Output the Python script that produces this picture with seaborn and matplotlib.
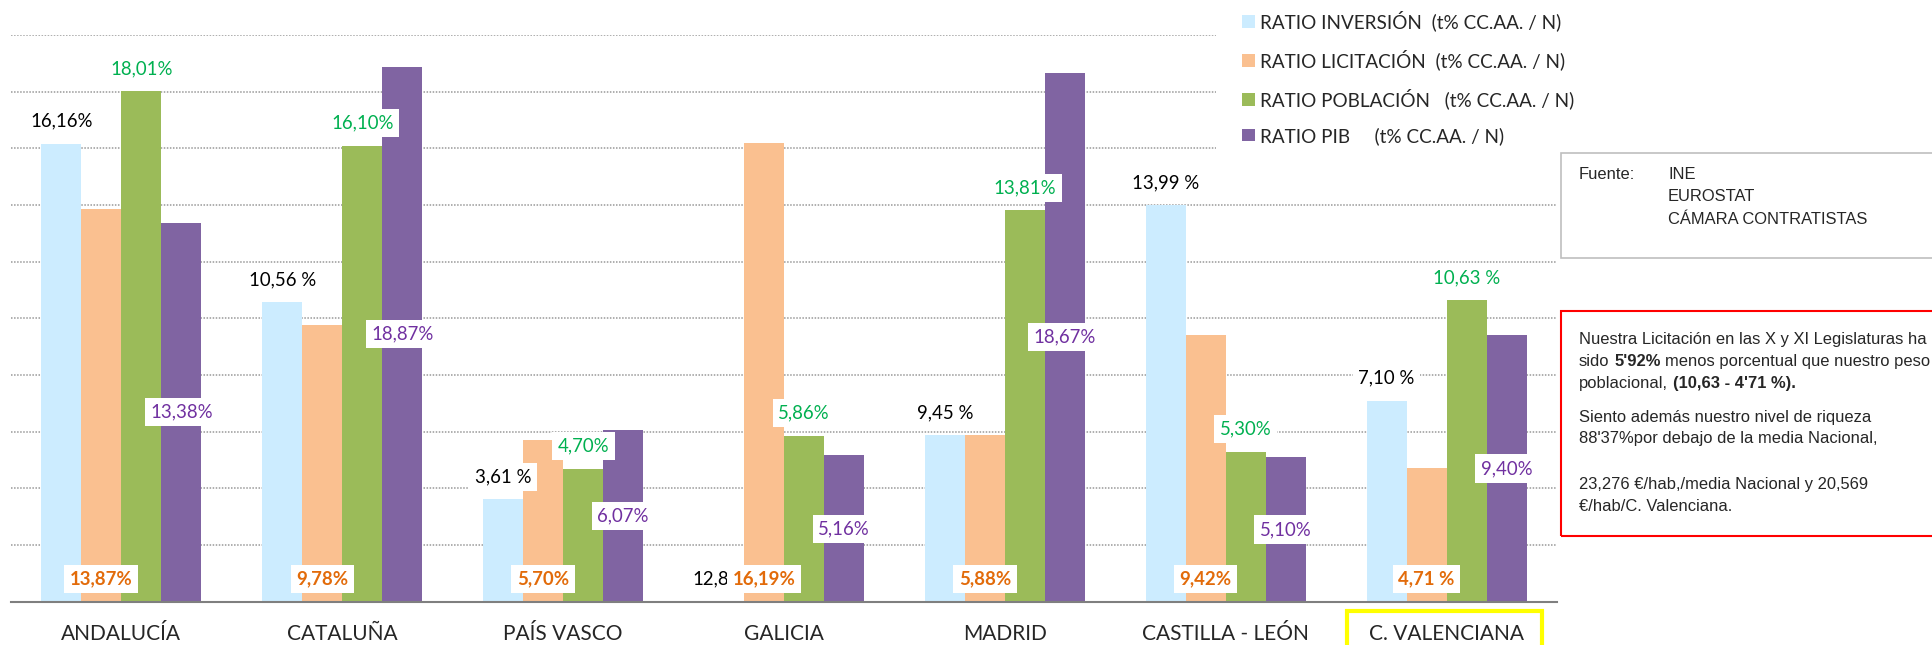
import matplotlib
matplotlib.use("Agg")
import matplotlib.pyplot as plt
import matplotlib.patches as mpatches
from matplotlib import font_manager
import pandas as pd
import seaborn as sns

# --- data ------------------------------------------------------------------
regions = ["ANDALUCÍA", "CATALUÑA", "PAÍS VASCO", "GALICIA", "MADRID",
           "CASTILLA - LEÓN", "C. VALENCIANA"]
series = ["RATIO INVERSIÓN  (t% CC.AA. / N)",
          "RATIO LICITACIÓN  (t% CC.AA. / N)",
          "RATIO POBLACIÓN   (t% CC.AA. / N)",
          "RATIO PIB     (t% CC.AA. / N)"]

# bar heights as drawn
inversion = [16.16, 10.56, 3.61, 0.0, 5.88, 13.99, 7.10]
licitacion = [13.87, 9.78, 5.70, 16.19, 5.88, 9.42, 4.71]
poblacion = [18.01, 16.10, 4.70, 5.86, 13.81, 5.30, 10.63]
pib = [13.38, 18.87, 6.07, 5.16, 18.67, 5.10, 9.40]

# data label texts as printed
inversion_labels = ["16,16%", "10,56 %", "3,61 %", "12,8", "9,45 %", "13,99 %", "7,10 %"]
licitacion_labels = ["13,87%", "9,78%", "5,70%", "16,19%", "5,88%", "9,42%", "4,71 %"]
poblacion_labels = ["18,01%", "16,10%", "4,70%", "5,86%", "13,81%", "5,30%", "10,63 %"]
pib_labels = ["13,38%", "18,87%", "6,07%", "5,16%", "18,67%", "5,10%", "9,40%"]

fuente_lines = ["INE", "EUROSTAT", "CÁMARA CONTRATISTAS"]
note_lines = [
    [("Nuestra Licitación en las X y XI Legislaturas ha", "normal")],
    [("sido", "normal"), ("5'92%", "bold"), ("menos porcentual que nuestro peso", "normal")],
    [("poblacional,", "normal"), ("(10,63 - 4'71 %).", "bold")],
    [("Siento además nuestro nivel de riqueza", "normal")],
    [("88'37%por debajo de la media Nacional,", "normal")],
    [("23,276 €/hab,/media Nacional y 20,569", "normal")],
    [("€/hab/C. Valenciana.", "normal")],
]

colors = ["#CCECFF", "#FAC090", "#9BBB59", "#8064A2"]
label_colors = ["black", "#E26B0A", "#00B050", "#7030A0"]

W, H = 1932, 645

sns.set_style("white")
plt.rcParams["font.family"] = ["Lato", "DejaVu Sans"]

try:
    font_manager.findfont("Liberation Sans Narrow", fallback_to_default=False)
    box_font, box_fs = "Liberation Sans Narrow", 14.4
except ValueError:
    box_font, box_fs = "Liberation Sans", 11.9

df = pd.DataFrame({
    "region": regions * 4,
    "serie": [s for s in series for _ in regions],
    "value": inversion + licitacion + poblacion + pib,
})

fig = plt.figure(figsize=(W / 100, H / 100), dpi=100)
ax = fig.add_axes([11 / W, (H - 601.7) / H, (1557 - 11) / W, (601.7 - 35) / H])

sns.barplot(data=df, x="region", y="value", hue="serie", hue_order=series,
            order=regions, palette=colors, saturation=1, width=0.725,
            errorbar=None, legend=False, linewidth=0, ax=ax)

ax.set_ylim(0, 20)
ax.set_yticks(range(0, 21, 2))
ax.set_xlabel("")
ax.set_ylabel("")
ax.set_axisbelow(True)
ax.yaxis.grid(True, color="#999999", linestyle=(0, (1, 1)), linewidth=1.1)
ax.xaxis.grid(False)
for side in ["top", "right", "left"]:
    ax.spines[side].set_visible(False)
ax.spines["bottom"].set_color("#7F7F7F")
ax.spines["bottom"].set_linewidth(1.5)
ax.set_xticks([i - 0.5 for i in range(len(regions) + 1)], minor=True)
ax.tick_params(axis="x", which="major", length=0, pad=16, labelsize=15)
ax.tick_params(axis="x", which="minor", length=5, width=1.5, color="#7F7F7F", direction="out")
ax.tick_params(axis="y", length=0, labelleft=False)


def add_labels(container, labels, color, where, bold=False):
    for bar, text in zip(container.patches, labels):
        x = bar.get_x() + bar.get_width() / 2
        h = bar.get_height()
        ha, dx = "center", 0
        if where == "top":
            y, dy = h, 16.3
            if h == 0:
                # empty bar: the label sits just left of the neighbour's label
                x, ha, dx = bar.get_x() + bar.get_width(), "right", -11
        elif where == "base":
            y, dy = 0, 16.3
        else:
            y, dy = h / 2, 0
        ax.annotate(text, (x, y), xytext=(dx, dy), textcoords="offset points",
                    ha=ha, va="center", fontsize=13.4, color=color,
                    weight="bold" if bold else "normal",
                    bbox=dict(boxstyle="square,pad=0.3", facecolor="white", edgecolor="none"))


add_labels(ax.containers[0], inversion_labels, label_colors[0], "top")
add_labels(ax.containers[1], licitacion_labels, label_colors[1], "base", bold=True)
add_labels(ax.containers[2], poblacion_labels, label_colors[2], "top")
add_labels(ax.containers[3], pib_labels, label_colors[3], "center")

handles = [mpatches.Patch(facecolor=c, edgecolor="none", label=s) for c, s in zip(colors, series)]
fig.legend(handles=handles, loc="upper left", bbox_to_anchor=(1216 / W, 1 + 16 / H),
           frameon=True, fancybox=False, edgecolor="none", facecolor="white", framealpha=1,
           fontsize=13.6, handlelength=0.65, handleheight=0.65, handletextpad=0.3,
           labelspacing=0.95, borderpad=1.4, borderaxespad=0)

# highlighted category
fig.add_artist(mpatches.Rectangle((1347 / W, -0.05), (1542 - 1347) / W, (H - 611) / H + 0.05,
                                  transform=fig.transFigure, fill=False,
                                  edgecolor="#FFFF00", linewidth=3, clip_on=False))

# source box (drawn above the legend frame)
fig.add_artist(mpatches.Rectangle((1561 / W, (H - 257.7) / H), 400 / W, 105 / H,
                                  transform=fig.transFigure, facecolor="white",
                                  edgecolor="#BFBFBF", linewidth=1.2, clip_on=False, zorder=6))
fig.text(1579 / W, 1 - 174 / H, "Fuente:", family=box_font, fontsize=box_fs, va="center", zorder=7)
for i, line in enumerate(fuente_lines):
    fig.text(1668 / W, 1 - (174 + 22.6 * i) / H, line, family=box_font, fontsize=box_fs,
             va="center", zorder=7)

# note box
fig.add_artist(mpatches.Rectangle((1561 / W, (H - 535.7) / H), 400 / W, 225 / H,
                                  transform=fig.transFigure, fill=False,
                                  edgecolor="#FF0000", linewidth=1.5, clip_on=False))
renderer = fig.canvas.get_renderer()


def text_width(s, weight):
    t = fig.text(0, 0, s, family=box_font, fontsize=box_fs, weight=weight)
    w = t.get_window_extent(renderer).width
    t.remove()
    return w


space_w = text_width("x x", "normal") - text_width("xx", "normal")
note_y = [339.3, 361.7, 383.3, 417.3, 439, 484.3, 506.7]
for y_px, runs in zip(note_y, note_lines):
    x_px = 1579
    for text, weight in runs:
        t = fig.text(x_px / W, 1 - y_px / H, text, family=box_font, fontsize=box_fs,
                     weight=weight, va="center", ha="left")
        x_px += t.get_window_extent(renderer).width + space_w

fig.savefig("out.png", dpi=100)
